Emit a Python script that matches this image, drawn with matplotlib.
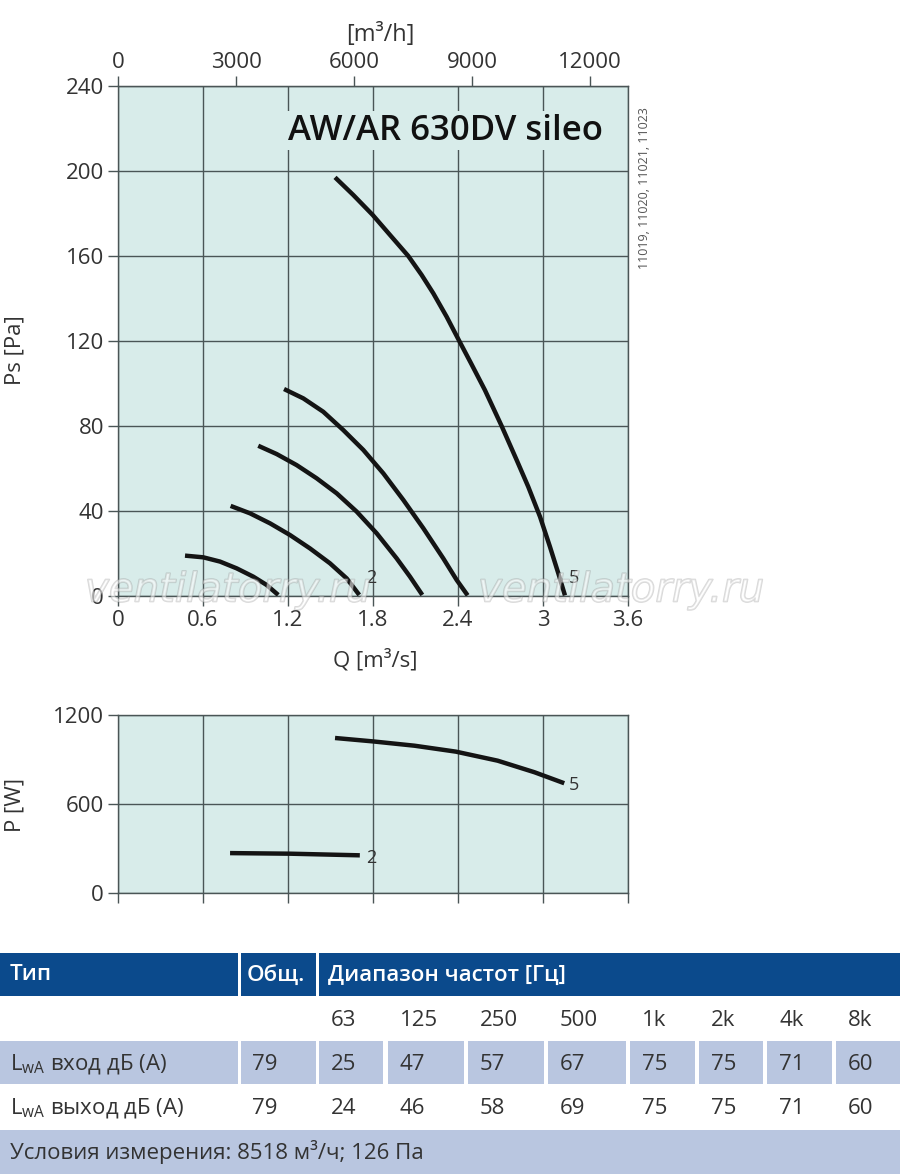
import numpy as np
import matplotlib
matplotlib.use('Agg')
import matplotlib.pyplot as plt
import matplotlib.patheffects as pe
from matplotlib.patches import Rectangle

plt.rcParams['font.family'] = ['Open Sans', 'DejaVu Sans']
plt.rcParams['mathtext.fontset'] = 'custom'
plt.rcParams['mathtext.rm'] = 'Open Sans'

# pressure curves Q [m3/s] -> Ps [Pa], read from the sheet
q1 = [0.473, 0.602, 0.720, 0.838, 0.955, 1.049, 1.131]
ps1 = [19.0, 18.2, 16.2, 13.0, 9.1, 5.2, 0.5]
q2 = [0.795, 0.932, 1.073, 1.214, 1.355, 1.496, 1.614, 1.703]
ps2 = [42.4, 38.9, 34.2, 28.7, 22.4, 15.4, 8.3, 0.5]
q3 = [0.990, 1.120, 1.261, 1.402, 1.544, 1.685, 1.826, 1.967, 2.061, 2.148]
ps3 = [70.7, 66.8, 61.6, 55.4, 48.3, 39.7, 29.5, 17.7, 9.1, 0.5]
q4 = [1.172, 1.308, 1.449, 1.590, 1.732, 1.873, 2.014, 2.155, 2.296, 2.391, 2.468]
ps4 = [97.4, 93.0, 86.7, 78.1, 68.7, 57.7, 45.2, 31.9, 17.7, 7.5, 0.3]
q5 = [1.532, 1.661, 1.798, 1.920, 2.049, 2.143, 2.226, 2.320, 2.409, 2.492, 2.590,
      2.708, 2.814, 2.896, 2.979, 3.049, 3.108, 3.155]
ps5 = [197.0, 188.7, 179.3, 169.9, 160.0, 151.1, 142.4, 131.4, 120.0, 109.5, 96.9,
       80.0, 64.0, 51.4, 37.3, 23.2, 10.7, 0.3]

# power curves Q -> P [W]
pq2 = [0.791, 1.215, 1.707]
pw2 = [269, 265, 254]
pq5 = [1.532, 1.80, 2.093, 2.385, 2.68, 2.94, 3.15]
pw5 = [1045, 1022, 993, 953, 892, 814, 740]

q_ticks = [0, 0.6, 1.2, 1.8, 2.4, 3.0, 3.6]
q_ticklabels = ['0', '0.6', '1.2', '1.8', '2.4', '3', '3.6']
ps_ticks = [0, 40, 80, 120, 160, 200, 240]
p_ticks = [0, 600, 1200]
m3h_ticks = [0, 3000, 6000, 9000, 12000]

title = 'AW/AR 630DV sileo'
article_nos = '11019, 11020, 11021, 11023'

# sound table
bands = ['63', '125', '250', '500', '1k', '2k', '4k', '8k']
lwa_in = [25, 47, 57, 67, 75, 75, 71, 60]
lwa_out = [24, 46, 58, 69, 75, 75, 71, 60]
total_in = 79
total_out = 79
row_in = r'L$_{\mathregular{wA}}$ вход дБ (А)'
row_out = r'L$_{\mathregular{wA}}$ выход дБ (А)'
conditions = 'Условия измерения: 8518 м³/ч; 126 Па'

W, H = 900, 1175
face = '#d8ecea'
gridc = '#4a5556'
curvec = '#141414'
txtc = '#333333'
navy = '#0b4a8c'
pale = '#b9c6e0'


def fx(x):
    return x / W


def fy(y):
    return 1 - y / H


fig = plt.figure(figsize=(9, 11.75), dpi=100)

# table background axes in pixel coords
axt = fig.add_axes([0, 0, 1, 1], zorder=-5)
axt.set_xlim(0, W)
axt.set_ylim(H, 0)
axt.axis('off')

ax = fig.add_axes([fx(118), fy(596), fx(628) - fx(118), fy(86) - fy(596)])
axp = fig.add_axes([fx(118), fy(893), fx(628) - fx(118), fy(715) - fy(893)])

for a in (ax, axp):
    a.set_facecolor(face)
    a.set_xlim(0, 3.6)
    a.set_xticks(q_ticks)
    a.grid(True, color=gridc, lw=1.0)
    a.set_axisbelow(True)
    for s in a.spines.values():
        s.set_color(gridc)
        s.set_linewidth(1.0)
    a.tick_params(direction='out', length=7, width=1.0, color=gridc,
                  labelsize=16, labelcolor=txtc, pad=3)

ax.set_ylim(0, 240)
ax.set_yticks(ps_ticks)
ax.set_xticklabels(q_ticklabels)
for qq, pp in [(q1, ps1), (q2, ps2), (q3, ps3), (q4, ps4), (q5, ps5)]:
    ax.plot(qq, pp, color=curvec, lw=3.2, solid_capstyle='butt',
            solid_joinstyle='round', zorder=3)
ax.text(1.79, 8.5, '2', fontsize=13, color=txtc, va='center', ha='center', zorder=6)
ax.text(3.22, 8.5, '5', fontsize=13, color=txtc, va='center', ha='center', zorder=6)
ax.text(2.31, 219, title, fontsize=25, fontweight='semibold', color='#111111',
        ha='center', va='center', zorder=5,
        bbox=dict(facecolor=face, edgecolor='none', pad=2))

top = ax.secondary_xaxis('top', functions=(lambda q: q * 3600, lambda m: m / 3600))
top.set_xticks(m3h_ticks)
top.tick_params(direction='out', length=7, width=1.0, color=gridc,
                labelsize=16, labelcolor=txtc, pad=2)
top.spines['top'].set_color(gridc)

axp.set_ylim(0, 1200)
axp.set_yticks(p_ticks)
axp.set_xticklabels([])
axp.plot(pq2, pw2, color=curvec, lw=3.2, solid_capstyle='butt', solid_joinstyle='round', zorder=3)
axp.plot(pq5, pw5, color=curvec, lw=3.2, solid_capstyle='butt', solid_joinstyle='round', zorder=3)
axp.text(3.22, 729, '5', fontsize=13, color=txtc, va='center', ha='center')
axp.text(1.79, 235, '2', fontsize=13, color=txtc, va='center', ha='center')

# axis titles
fig.text(fx(15), fy(350), 'Ps [Pa]', rotation=90, fontsize=16, color=txtc,
         ha='center', va='center')
fig.text(fx(375), fy(660), 'Q [m³/s]', fontsize=16, color=txtc, ha='center', va='center')
fig.text(fx(380), fy(35), '[m³/h]', fontsize=17, color=txtc, ha='center', va='center')
fig.text(fx(15), fy(805), 'P [W]', rotation=90, fontsize=16, color=txtc,
         ha='center', va='center')
fig.text(fx(645), fy(188), article_nos, rotation=90, fontsize=9, color='#555555',
         ha='center', va='center')

# watermark: pale fill with a soft grey outline
for wx in (85, 478):
    fig.text(fx(wx), fy(590), 'ventilatorry.ru', fontsize=29, style='italic',
             family='DejaVu Sans', color='white', alpha=0.3, ha='left', va='center',
             zorder=2,
             path_effects=[pe.Stroke(linewidth=1.2, foreground='#909090', alpha=0.35),
                           pe.Normal()])

# table
col_l = [319, 388, 468, 548, 630, 699, 767, 836]
col_r = [383, 464, 544, 626, 695, 763, 832, 900]

axt.add_patch(Rectangle((0, 953), 238, 43, color=navy, lw=0))
axt.add_patch(Rectangle((241, 953), 75, 43, color=navy, lw=0))
axt.add_patch(Rectangle((319, 953), 581, 43, color=navy, lw=0))
axt.text(10, 975, 'Тип', color='white', fontsize=16, fontweight='semibold', va='center')
axt.text(247, 975, 'Общ.', color='white', fontsize=16, fontweight='semibold', va='center')
axt.text(328, 975, 'Диапазон частот [Гц]', color='white', fontsize=16,
         fontweight='semibold', va='center')

for i, b in enumerate(bands):
    axt.text(col_l[i] + 12, 1020, b, color=txtc, fontsize=16, va='center')

axt.add_patch(Rectangle((0, 1041), 238, 43, color=pale, lw=0))
axt.add_patch(Rectangle((241, 1041), 75, 43, color=pale, lw=0))
for i in range(len(bands)):
    axt.add_patch(Rectangle((col_l[i], 1041), col_r[i] - col_l[i], 43, color=pale, lw=0))

axt.text(10, 1064, row_in, color=txtc, fontsize=16, va='center')
axt.text(252, 1064, str(total_in), color=txtc, fontsize=16, va='center')
for i, v in enumerate(lwa_in):
    axt.text(col_l[i] + 12, 1064, str(v), color=txtc, fontsize=16, va='center')

axt.text(10, 1108, row_out, color=txtc, fontsize=16, va='center')
axt.text(252, 1108, str(total_out), color=txtc, fontsize=16, va='center')
for i, v in enumerate(lwa_out):
    axt.text(col_l[i] + 12, 1108, str(v), color=txtc, fontsize=16, va='center')

axt.add_patch(Rectangle((0, 1130), 900, 44, color=pale, lw=0))
axt.text(10, 1152, conditions, color=txtc, fontsize=16, va='center')

fig.savefig('out.png', dpi=100, facecolor='white')
